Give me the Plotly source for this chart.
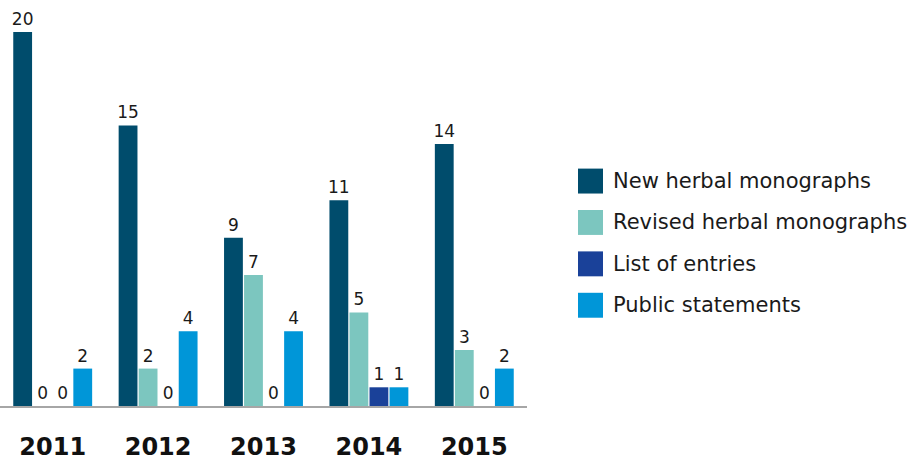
import plotly.graph_objects as go

YEARS = ["2011", "2012", "2013", "2014", "2015"]
NEW_MONOGRAPHS = [20, 15, 9, 11, 14]
REVISED_MONOGRAPHS = [0, 2, 7, 5, 3]
LIST_OF_ENTRIES = [0, 0, 0, 1, 0]
PUBLIC_STATEMENTS = [2, 4, 4, 1, 2]

SERIES = [
    ("New herbal monographs", NEW_MONOGRAPHS, "#004C6C"),
    ("Revised herbal monographs", REVISED_MONOGRAPHS, "#7CC6BF"),
    ("List of entries", LIST_OF_ENTRIES, "#1A4199"),
    ("Public statements", PUBLIC_STATEMENTS, "#0096D8"),
]

FONT = "DejaVu Sans"

fig = go.Figure()
for name, values, color in SERIES:
    fig.add_bar(
        x=YEARS,
        y=values,
        name=name,
        marker_color=color,
        marker_line_width=0,
        text=[str(v) for v in values],
        textposition="outside",
        constraintext="none",
        textfont={"family": FONT, "size": 17, "color": "#1a1a1a"},
        cliponaxis=False,
        showlegend=False,
    )

# Legend drawn by hand to get the large square swatches of the original.
for i, (name, _, color) in enumerate(SERIES):
    top = 169 + i * 41.5
    fig.add_shape(
        type="rect",
        xref="paper",
        yref="paper",
        x0=578 / 527,
        x1=603 / 527,
        y0=(407 - top) / 397,
        y1=(407 - top - 25) / 397,
        fillcolor=color,
        line_width=0,
    )
    fig.add_annotation(
        text=name,
        xref="paper",
        yref="paper",
        x=611 / 527,
        y=(407 - top - 12.5) / 397,
        xanchor="left",
        yanchor="middle",
        showarrow=False,
        font={"family": FONT, "size": 21, "color": "#1a1a1a"},
    )

fig.update_layout(
    width=910,
    height=461,
    margin={"l": 0, "r": 383, "t": 10, "b": 53},
    paper_bgcolor="white",
    plot_bgcolor="white",
    barmode="group",
    bargap=0.24,
    bargroupgap=0.06,
    font={"family": FONT},
)
fig.update_xaxes(
    showline=True,
    linecolor="#a6a6a6",
    linewidth=2,
    showgrid=False,
    ticks="",
    ticklabelstandoff=18,
    tickfont={"family": FONT, "size": 24, "color": "#111111", "weight": "bold"},
)
fig.update_yaxes(visible=False, range=[0, 21.17], showgrid=False, zeroline=False)

fig.write_html(
    "out.html",
    config={"displayModeBar": False},
    post_script="document.body.style.margin = '0';",
)
